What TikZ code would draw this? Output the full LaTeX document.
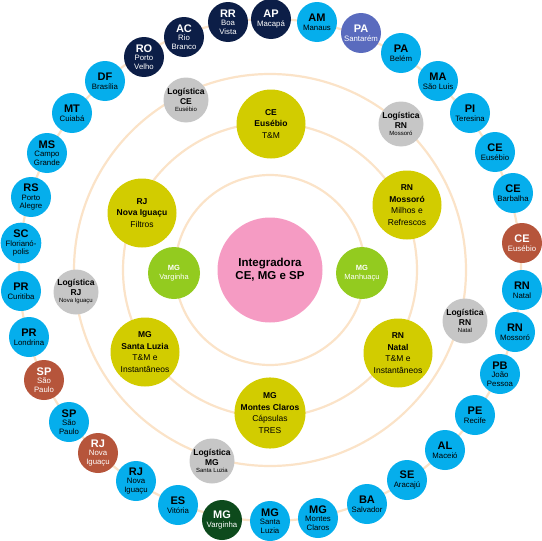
\documentclass[tikz,border=0pt]{standalone}
\usepackage{fontspec}
\setmainfont{Liberation Sans}
\definecolor{cblue}{HTML}{05AEEC}
\definecolor{cnavy}{HTML}{0C1E47}
\definecolor{cpurple}{HTML}{5A6BBE}
\definecolor{cbrown}{HTML}{B6553B}
\definecolor{cdkgreen}{HTML}{0D4A1C}
\definecolor{cgray}{HTML}{C6C6C6}
\definecolor{cyellow}{HTML}{D2CC00}
\definecolor{cgreen}{HTML}{93CB1F}
\definecolor{cpink}{HTML}{F59BC3}
\definecolor{cring}{HTML}{FBE3C8}
\newcommand\ab[1]{{\fontsize{11}{11}\selectfont\bfseries #1}}
\newcommand\lb[1]{{\fontsize{8.5}{10}\selectfont\bfseries #1}}
\tikzset{
 bub/.style={circle, inner sep=0pt, align=center},
 outer/.style={bub, minimum size=40pt, font=\fontsize{7.8}{8.6}\selectfont},
 ob/.style={outer, fill=cblue, text=black},
 onv/.style={outer, fill=cnavy, text=white},
 opu/.style={outer, fill=cpurple, text=white},
 obr/.style={outer, fill=cbrown, text=white},
 odg/.style={outer, fill=cdkgreen, text=white},
 lg/.style={bub, minimum size=45pt, fill=cgray, text=black, font=\fontsize{6}{9.5}\selectfont},
 yel/.style={bub, minimum size=69pt, fill=cyellow, text=black, font=\fontsize{8.5}{11.5}\selectfont},
 grn/.style={bub, minimum size=52pt, fill=cgreen, text=white, font=\fontsize{7.5}{9.5}\selectfont},
 pnk/.style={bub, minimum size=105pt, fill=cpink, text=black, font=\fontsize{11.5}{13}\selectfont\bfseries},
 ring/.style={draw=cring, line width=2.2pt}
}
\begin{document}
\begin{tikzpicture}[x=1pt,y=-1pt]
\useasboundingbox (0,0) rectangle (542,541);
% rings
\coordinate (ctr) at (270,270);
\draw[ring] (ctr) circle[radius=95pt];
\draw[ring] (ctr) circle[radius=147pt];
\draw[ring] (ctr) circle[radius=196pt];
\draw[ring] (ctr) circle[radius=251pt];
% center
\node[pnk] (integ) at (270,270) {Integradora\\CE, MG e SP};
\node[grn] (varg) at (174,273) {\textbf{MG}\\Varginha};
\node[grn] (manh) at (362,273) {\textbf{MG}\\Manhuaçu};
% yellow
\node[yel] (yce) at (271,124) {\textbf{CE}\\\textbf{Eusébio}\\T\&M};
\node[yel] (yrnm) at (407,205) {\textbf{RN}\\\textbf{Mossoró}\\Milhos e\\Refrescos};
\node[yel] (yrj) at (142,213) {\textbf{RJ}\\\textbf{Nova Iguaçu}\\Filtros};
\node[yel] (ymgsl) at (145,352) {\textbf{MG}\\\textbf{Santa Luzia}\\T\&M e\\Instantâneos};
\node[yel] (yrnn) at (398,353) {\textbf{RN}\\\textbf{Natal}\\T\&M e\\Instantâneos};
\node[yel] (ymgmc) at (270,413) {\textbf{MG}\\\textbf{Montes Claros}\\Cápsulas\\TRES};
% logistica
\node[lg] (lce) at (186,100) {\lb{Logística}\\\lb{CE}\\[-2pt]Eusébio};
\node[lg] (lrnm) at (401,124) {\lb{Logística}\\\lb{RN}\\[-2pt]Mossoró};
\node[lg] (lrj) at (76,292) {\lb{Logística}\\\lb{RJ}\\[-2pt]Nova Iguaçu};
\node[lg] (lrnn) at (465,321) {\lb{Logística}\\\lb{RN}\\[-2pt]Natal};
\node[lg] (lmg) at (212,461) {\lb{Logística}\\\lb{MG}\\[-2pt]Santa Luzia};
% outer circle
\node[onv] (ap) at (271,19) {\ab{AP}\\Macapá};
\node[ob] (am) at (317,22) {\ab{AM}\\Manaus};
\node[opu] (pas) at (361,33) {\ab{PA}\\Santarém};
\node[ob] (pab) at (401,53) {\ab{PA}\\Belém};
\node[ob] (ma) at (438,81) {\ab{MA}\\São Luis};
\node[ob] (pi) at (470,113) {\ab{PI}\\Teresina};
\node[ob] (cee) at (495,152) {\ab{CE}\\Eusébio};
\node[ob] (ceb) at (513,193) {\ab{CE}\\Barbalha};
\node[obr] (cee2) at (522,243) {\ab{CE}\\Eusébio};
\node[ob] (rnn) at (522,290) {\ab{RN}\\Natal};
\node[ob] (rnm) at (515,332) {\ab{RN}\\Mossoró};
\node[ob] (pb) at (500,374) {\ab{PB}\\João\\Pessoa};
\node[ob] (pe) at (475,415) {\ab{PE}\\Recife};
\node[ob] (al) at (445,450) {\ab{AL}\\Maceió};
\node[ob] (se) at (407,480) {\ab{SE}\\Aracajú};
\node[ob] (ba) at (367,504) {\ab{BA}\\Salvador};
\node[ob] (mgmc) at (318,518) {\ab{MG}\\Montes\\Claros};
\node[ob] (mgsl) at (270,521) {\ab{MG}\\Santa\\Luzia};
\node[odg] (mgv) at (222,520) {\ab{MG}\\Varginha};
\node[ob] (es) at (178,505) {\ab{ES}\\Vitória};
\node[ob] (rjn) at (136,481) {\ab{RJ}\\Nova\\Iguaçu};
\node[obr] (rjn2) at (98,453) {\ab{RJ}\\Nova\\Iguaçu};
\node[ob] (sp) at (69,422) {\ab{SP}\\São\\Paulo};
\node[obr] (sp2) at (44,380) {\ab{SP}\\São\\Paulo};
\node[ob] (prl) at (29,337) {\ab{PR}\\Londrina};
\node[ob] (prc) at (21,291) {\ab{PR}\\Curitiba};
\node[ob] (sc) at (21,243) {\ab{SC}\\Florianó-\\polis};
\node[ob] (rs) at (31,197) {\ab{RS}\\Porto\\Alegre};
\node[ob] (ms) at (47,153) {\ab{MS}\\Campo\\Grande};
\node[ob] (mt) at (72,113) {\ab{MT}\\Cuiabá};
\node[ob] (df) at (105,81) {\ab{DF}\\Brasília};
\node[onv] (ro) at (144,57) {\ab{RO}\\Porto\\Velho};
\node[onv] (ac) at (184,37) {\ab{AC}\\Rio\\Branco};
\node[onv] (rr) at (228,22) {\ab{RR}\\Boa\\Vista};
\end{tikzpicture}
\end{document}
